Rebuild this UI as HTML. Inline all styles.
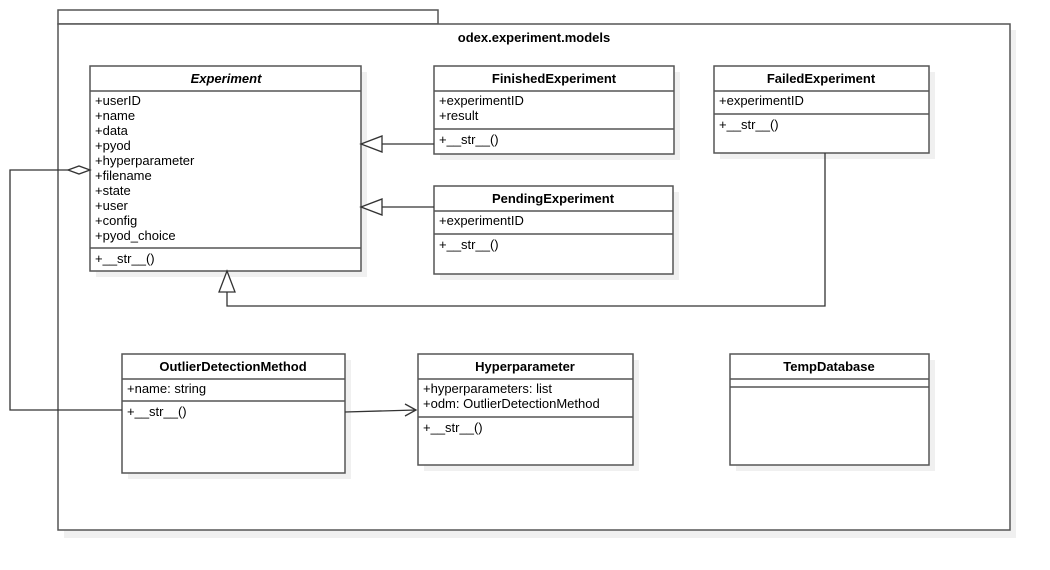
<!DOCTYPE html>
<html><head><style>body{margin:0;background:#fff}svg{display:block}text{font-family:"Liberation Sans",Arial,sans-serif;font-size:13px;fill:#000}</style></head><body>
<svg width="1050" height="570" xmlns="http://www.w3.org/2000/svg">
<g fill="#f0f0f0" stroke="none">
<rect x="64" y="30" width="952" height="508"/>
</g>
<rect x="58" y="10" width="380" height="14" fill="#fff" stroke="#555" stroke-width="1.5"/>
<rect x="58" y="24" width="952" height="506" fill="#fff" stroke="#555" stroke-width="1.5"/>
<text x="534" y="42" text-anchor="middle" font-weight="bold">odex.experiment.models</text>
<g fill="#f0f0f0">
<rect x="96" y="72" width="271" height="205"/><rect x="440" y="72" width="240" height="88"/><rect x="720" y="72" width="215" height="87"/><rect x="440" y="192" width="239" height="88"/><rect x="128" y="360" width="223" height="119"/><rect x="424" y="360" width="215" height="111"/><rect x="736" y="360" width="199" height="111"/>
</g>
<g fill="#fff" stroke="#555" stroke-width="1.5">
<rect x="90" y="66" width="271" height="205"/><line x1="90" y1="91" x2="361" y2="91"/><line x1="90" y1="248" x2="361" y2="248"/>
<rect x="434" y="66" width="240" height="88"/><line x1="434" y1="91" x2="674" y2="91"/><line x1="434" y1="129" x2="674" y2="129"/>
<rect x="714" y="66" width="215" height="87"/><line x1="714" y1="91" x2="929" y2="91"/><line x1="714" y1="114" x2="929" y2="114"/>
<rect x="434" y="186" width="239" height="88"/><line x1="434" y1="211" x2="673" y2="211"/><line x1="434" y1="234" x2="673" y2="234"/>
<rect x="122" y="354" width="223" height="119"/><line x1="122" y1="379" x2="345" y2="379"/><line x1="122" y1="401" x2="345" y2="401"/>
<rect x="418" y="354" width="215" height="111"/><line x1="418" y1="379" x2="633" y2="379"/><line x1="418" y1="417" x2="633" y2="417"/>
<rect x="730" y="354" width="199" height="111"/><line x1="730" y1="379" x2="929" y2="379"/><line x1="730" y1="387" x2="929" y2="387"/>
</g>
<g text-anchor="middle">
<text x="226" y="83" font-style="italic" font-weight="bold">Experiment</text>
<text x="554" y="83" font-weight="bold">FinishedExperiment</text>
<text x="821" y="83" font-weight="bold">FailedExperiment</text>
<text x="553" y="203" font-weight="bold">PendingExperiment</text>
<text x="233" y="371" font-weight="bold">OutlierDetectionMethod</text>
<text x="525" y="371" font-weight="bold">Hyperparameter</text>
<text x="829" y="371" font-weight="bold">TempDatabase</text>
</g>
<g>
<text x="95" y="105">+userID</text><text x="95" y="120">+name</text><text x="95" y="135">+data</text><text x="95" y="150">+pyod</text><text x="95" y="165">+hyperparameter</text><text x="95" y="180">+filename</text><text x="95" y="195">+state</text><text x="95" y="210">+user</text><text x="95" y="225">+config</text><text x="95" y="240">+pyod_choice</text><text x="95" y="263">+__str__()</text>
<text x="439" y="105">+experimentID</text><text x="439" y="120">+result</text><text x="439" y="144">+__str__()</text>
<text x="719" y="105">+experimentID</text><text x="719" y="129">+__str__()</text>
<text x="439" y="225">+experimentID</text><text x="439" y="249">+__str__()</text>
<text x="127" y="393">+name: string</text><text x="127" y="416">+__str__()</text>
<text x="423" y="393">+hyperparameters: list</text><text x="423" y="408">+odm: OutlierDetectionMethod</text><text x="423" y="432">+__str__()</text>
</g>
<g fill="none" stroke="#333" stroke-width="1.3">
<line x1="434" y1="144" x2="382" y2="144"/><polygon points="361,144 382,136 382,152" fill="#fff"/>
<line x1="434" y1="207" x2="382" y2="207"/><polygon points="361,207 382,199 382,215" fill="#fff"/>
<polyline points="825,153 825,306 227,306 227,292"/><polygon points="227,271 219,292 235,292" fill="#fff"/>
<polyline points="68,170 10,170 10,410 122,410"/><polygon points="90,170 79,166 68,170 79,174" fill="#fff"/>
<line x1="345" y1="412" x2="416" y2="410"/><polyline points="405,404 416,410 405,416"/>
</g>
</svg>
</body></html>
